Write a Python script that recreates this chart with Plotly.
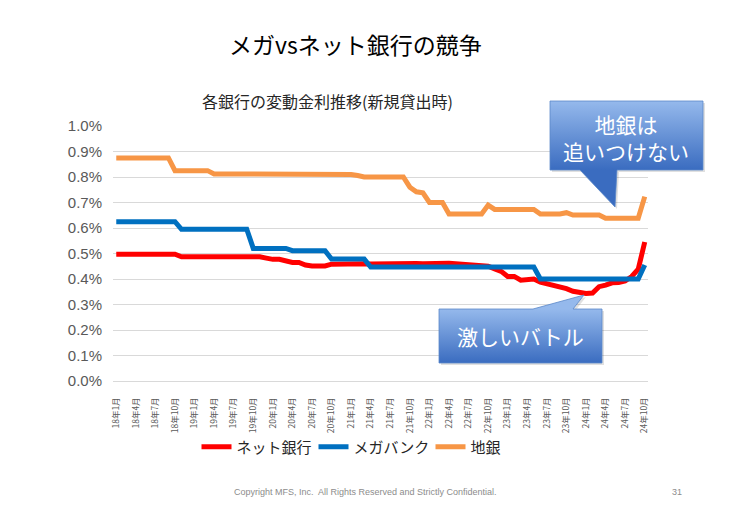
import plotly.graph_objects as go

W, H = 730, 505
FONT = "Liberation Sans, Noto Sans CJK JP, sans-serif"
JP = "Noto Sans CJK JP, sans-serif"

# ---- data ----
years = [18, 19, 20, 21, 22, 23, 24]
months = [f"{y}年{m}月" for y in years for m in range(1, 13)][:82]  # 18年1月 .. 24年10月

net_bank = ([0.497] * 10 + [0.487] * 13 + [0.482, 0.477, 0.477, 0.470, 0.465, 0.465, 0.455]
            + [0.451] * 3
            + [0.458, 0.459, 0.460, 0.460, 0.461, 0.460, 0.459, 0.460, 0.461, 0.460, 0.461, 0.462,
               0.463, 0.461, 0.460, 0.461, 0.462, 0.463, 0.462, 0.460, 0.458, 0.457, 0.455, 0.453]
            + [0.450, 0.440, 0.430, 0.410, 0.410, 0.395, 0.400, 0.400, 0.388, 0.382, 0.376, 0.372,
               0.362, 0.352, 0.345, 0.343, 0.345, 0.370, 0.376, 0.385, 0.386, 0.392, 0.410, 0.438, 0.545])
mega_bank = ([0.625] * 10 + [0.595] * 11 + [0.520] * 6 + [0.511] * 6 + [0.478] * 6
             + [0.447] * 26 + [0.400] * 16 + [0.455])
regional = ([0.875] * 9 + [0.825] * 6 + [0.812] * 11 + [0.810] * 11 + [0.806] + [0.800] * 7
            + [0.760, 0.742, 0.738] + [0.700] * 3 + [0.655] * 6 + [0.690] + [0.673] * 7
            + [0.655] * 4 + [0.660] + [0.651] * 5 + [0.638] * 6 + [0.723])

series_names = ["ネット銀行", "メガバンク", "地銀"]
series_values = [net_bank, mega_bank, regional]
series_colors = ["#FF0000", "#0070C0", "#F79646"]

y_ticks = [i / 10 for i in range(11)]
x_ticks = months[::3]

fig = go.Figure()
for name, vals, col in zip(series_names, series_values, series_colors):
    fig.add_trace(go.Scatter(x=months, y=vals, name=name, mode="lines",
                             line=dict(color=col, width=5), hoverinfo="skip"))

# ---- callout boxes (drawn on a pixel-coordinate overlay axis) ----
def px2paper_x(v):
    return v / W

def px2paper_y(v):
    return 1 - v / H

callouts = [
    dict(xs=[550, 703, 703, 617, 615, 580, 550, 550],
         ys=[101, 101, 170, 170, 207, 170, 170, 101], top=101, bottom=170),
    dict(xs=[439, 533, 584, 573, 602, 602, 439, 439],
         ys=[309, 309, 295, 309, 309, 363, 363, 309], top=309, bottom=363),
]
for c in callouts:
    # soft shadow
    fig.add_trace(go.Scatter(x=[v + 2 for v in c["xs"]], y=[v + 2 for v in c["ys"]],
                             xaxis="x2", yaxis="y2", mode="lines", fill="toself",
                             fillcolor="rgba(0,0,0,0.12)", line=dict(width=0),
                             hoverinfo="skip", showlegend=False))
    fig.add_trace(go.Scatter(x=c["xs"], y=c["ys"], xaxis="x2", yaxis="y2", mode="lines",
                             fill="toself",
                             fillgradient=dict(type="vertical",
                                               colorscale=[[0, "#95b9ec"], [1, "#3a6cc0"]],
                                               start=c["top"], stop=c["bottom"]),
                             line=dict(color="#5b88c9", width=0.8),
                             hoverinfo="skip", showlegend=False))

annotations = [
    dict(text="メガvsネット銀行の競争", x=px2paper_x(355), y=px2paper_y(44),
         font=dict(family=JP, size=23, color="#000000")),
    dict(text="各銀行の変動金利推移(新規貸出時)", x=px2paper_x(327), y=px2paper_y(101),
         font=dict(family=JP, size=16, color="#262626")),
    dict(text="地銀は<br>追いつけない", x=px2paper_x(626), y=px2paper_y(137),
         font=dict(family=JP, size=21, color="#ffffff")),
    dict(text="激しいバトル", x=px2paper_x(520), y=px2paper_y(336),
         font=dict(family=JP, size=21, color="#ffffff")),
    dict(text="Copyright MFS, Inc.&nbsp; All Rights Reserved and Strictly Confidential.",
         x=px2paper_x(365), y=px2paper_y(492),
         font=dict(family=FONT, size=9, color="#8c8c8c")),
    dict(text="31", x=px2paper_x(677), y=px2paper_y(492),
         font=dict(family=FONT, size=9, color="#8c8c8c")),
]
for a in annotations:
    a.update(xref="paper", yref="paper", showarrow=False, xanchor="center", yanchor="middle",
             align="center")

fig.update_layout(
    width=W, height=H,
    margin=dict(l=0, r=0, t=0, b=0),
    paper_bgcolor="#ffffff", plot_bgcolor="rgba(0,0,0,0)",
    font=dict(family=FONT, color="#595959"),
    showlegend=True,
    legend=dict(orientation="h", x=px2paper_x(372), y=px2paper_y(447),
                xanchor="center", yanchor="middle",
                font=dict(family=JP, size=15, color="#262626"),
                bgcolor="rgba(0,0,0,0)", itemwidth=30, traceorder="normal",
                entrywidth=72, entrywidthmode="pixels"),
    xaxis=dict(domain=[113 / W, 648 / W], type="category", range=[-0.5, 81.5],
               tickmode="array", tickvals=x_ticks, ticktext=x_ticks, tickangle=-90,
               tickfont=dict(family=JP, size=8.5, color="#595959"),
               showgrid=False, zeroline=False, showline=True, linecolor="#D9D9D9",
               ticks="", ticklabelstandoff=12, automargin=False, fixedrange=True),
    yaxis=dict(domain=[1 - 381 / H, 1 - 126 / H], range=[0, 1.0],
               tickmode="array", tickvals=y_ticks,
               ticktext=[f"{v:.1f}%" for v in y_ticks],
               tickfont=dict(family=FONT, size=15, color="#595959"),
               showgrid=True, gridcolor="#D9D9D9", gridwidth=1,
               zeroline=False, showline=False, ticks="", ticklabelstandoff=10,
               automargin=False, fixedrange=True),
    xaxis2=dict(domain=[0, 1], range=[0, W], anchor="y2", visible=False, fixedrange=True),
    yaxis2=dict(domain=[0, 1], range=[H, 0], anchor="x2", visible=False, fixedrange=True),
    annotations=annotations,
)

fig.write_html("out.html", config={"displayModeBar": False},
               post_script="document.body.style.margin='0px';")
